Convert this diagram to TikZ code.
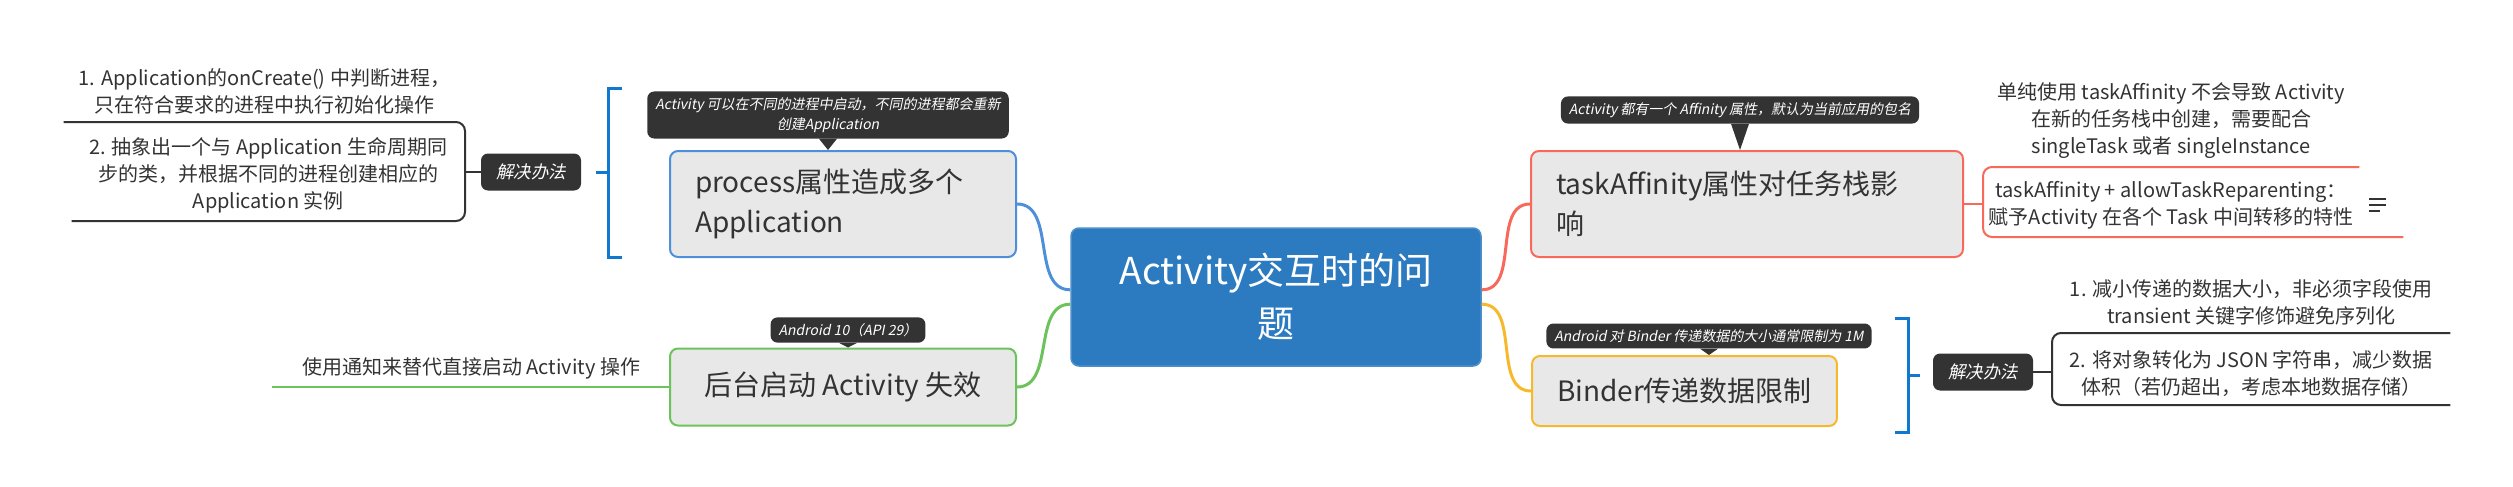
\documentclass[tikz,border=0pt]{standalone}
\usepackage{fontspec}
\usepackage{tikz}
\setmainfont{Noto Sans CJK SC}
\newfontfamily\slantfont[FakeSlant=0.2]{Noto Sans CJK SC}
\definecolor{rootblue}{HTML}{2C7BC1}
\definecolor{topicgray}{HTML}{E8E8E8}
\definecolor{inkgray}{HTML}{333333}
\definecolor{branchblue}{HTML}{4E8FDB}
\definecolor{branchgreen}{HTML}{6CC25B}
\definecolor{branchred}{HTML}{F8695B}
\definecolor{branchyellow}{HTML}{F7B92C}
\definecolor{bracketblue}{HTML}{1078CF}

\begin{document}
\begin{tikzpicture}[
  x=1pt, y=-1pt,
  root/.style={fill=rootblue, draw=rootblue!85!white, line width=1.5pt,
    rounded corners=8pt, text=white, align=center, inner sep=0pt,
    minimum width=410pt, minimum height=138pt,
    font=\fontsize{37}{53}\selectfont},
  topic/.style={fill=topicgray, line width=2pt, rounded corners=8pt,
    text=inkgray, inner xsep=25pt, inner ysep=0pt,
    font=\fontsize{28}{40}\selectfont},
  callout/.style={fill=inkgray, rounded corners=7pt, text=white,
    align=center, inner xsep=8pt, inner ysep=6pt,
    font=\slantfont\fontsize{14}{20}\selectfont},
  solution/.style={fill=inkgray, rounded corners=7pt, text=white,
    inner sep=0pt, minimum width=100pt, minimum height=37pt,
    font=\slantfont\fontsize{17.5}{20}\selectfont},
  item/.style={text=inkgray, align=center, inner xsep=0pt, inner ysep=8pt,
    font=\fontsize{20}{27}\selectfont},
  branch/.style={line width=3pt},
  spine/.style={line width=2pt, rounded corners=9pt},
  summary/.style={draw=bracketblue, line width=3pt},
  ]
  \useasboundingbox (0,0) rectangle (2513,487);
  % Central topic
  \node[root] (root) at (1276,297) {Activity交互时的问\\题};
  % Main topics
  \node[topic, draw=branchblue, text width=296pt, align=left,
    minimum height=106pt] (proc) at (843,204) {process属性造成多个\\Application};
  \node[topic, draw=branchgreen, minimum width=346pt,
    minimum height=77pt] (bg) at (843,387) {后台启动 Activity 失效};
  \node[topic, draw=branchred, text width=382pt, align=left,
    minimum height=106pt] (task) at (1747,204) {taskAffinity属性对任务栈影\\响};
  \node[topic, draw=branchyellow, anchor=west,
    minimum height=70pt] (binder) at (1531,391) {Binder传递数据限制};
  % Branches
  \draw[branch, branchblue] (root.178) to[out=180,in=0] (proc.east);
  \draw[branch, branchgreen] (root.182) to[out=180,in=0] (bg.east);
  \draw[branch, branchred] (root.2) to[out=0,in=180] (task.west);
  \draw[branch, branchyellow] (root.358) to[out=0,in=180] (binder.west);
  % Callouts
  \node[callout] (ptip) at (828,115)
    {Activity 可以在不同的进程中启动，不同的进程都会重新\\创建Application};
  \node[callout] (btip) at (848,330) {Android 10（API 29）};
  \node[callout] (ttip) at (1740,110)
    {Activity 都有一个 Affinity 属性，默认为当前应用的包名};
  \node[callout] (dtip) at (1709,336)
    {Android 对 Binder 传递数据的大小通常限制为 1M};
  \foreach \t/\n in {ptip/proc,btip/bg,ttip/task,dtip/binder}
    \fill[inkgray] ([xshift=-9pt]\t.south) -- ([xshift=9pt]\t.south)
      -- (\n.north -| \t.south) -- cycle;
  % Left solutions
  \draw[summary] (622,88) -- (608,88) -- (608,257) -- (622,257);
  \draw[summary] (608,172) -- (596,172);
  \node[solution] (lsol) at (531,172) {解决办法};
  \node[item, anchor=south east, minimum width=401pt] (l1) at (465,122)
    {1. Application的onCreate() 中判断进程，\\只在符合要求的进程中执行初始化操作};
  \node[item, anchor=south east, minimum width=393pt] (l2) at (465,221)
    {2. 抽象出一个与 Application 生命周期同\\步的类，并根据不同的进程创建相应的\\Application 实例};
  \draw[spine, inkgray] (l1.south west) -- (l1.south east)
    -- (l2.south east) -- (l2.south west);
  \draw[spine, inkgray] (lsol.west) -- (lsol.west -| l1.south east);
  % Background note
  \node[item, anchor=south west, minimum width=398pt] (note) at (272,387)
    {使用通知来替代直接启动 Activity 操作};
  \draw[spine, branchgreen] (bg.west) -- (note.south west);
  % taskAffinity details
  \node[item, anchor=south west, minimum width=376pt] (r1) at (1983,167)
    {单纯使用 taskAffinity 不会导致 Activity\\在新的任务栈中创建，需要配合\\singleTask 或者 singleInstance};
  \node[item, anchor=south west, minimum width=376pt] (r2) at (1983,237)
    {taskAffinity + allowTaskReparenting：\\赋予Activity 在各个 Task 中间转移的特性};
  \draw[spine, branchred] (r1.south east) -- (r1.south west)
    -- (r2.south west) -- ([xshift=44pt]r2.south east);
  \draw[spine, branchred] (task.east) -- (task.east -| r1.south west);
  \foreach \dy/\len in {-6/17,0/17,6/11}
    \draw[inkgray, line width=1.6pt] ([shift={(10,\dy)}]r2.east) -- ++(\len,0);
  % Binder solutions
  \draw[summary] (1895,318) -- (1908,318) -- (1908,432) -- (1895,432);
  \draw[summary] (1908,375) -- (1920,375);
  \node[solution] (rsol) at (1983,372) {解决办法};
  \node[item, anchor=south west, minimum width=398pt] (b1) at (2052,333)
    {1. 减小传递的数据大小，非必须字段使用\\transient 关键字修饰避免序列化};
  \node[item, anchor=south west, minimum width=398pt] (b2) at (2052,405)
    {2. 将对象转化为 JSON 字符串，减少数据\\体积（若仍超出，考虑本地数据存储）};
  \draw[spine, inkgray] (b1.south east) -- (b1.south west)
    -- (b2.south west) -- (b2.south east);
  \draw[spine, inkgray] (rsol.east) -- (rsol.east -| b1.south west);
\end{tikzpicture}
\end{document}
